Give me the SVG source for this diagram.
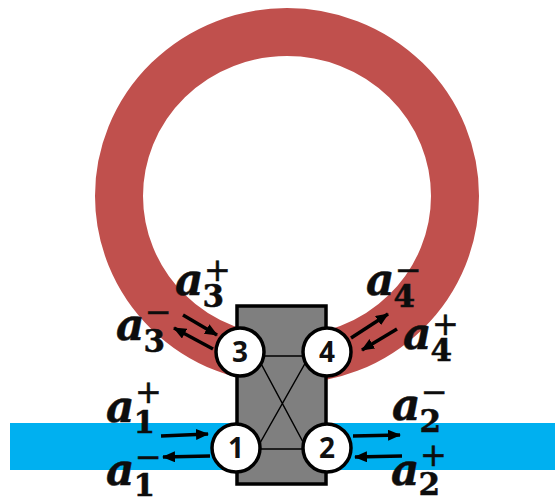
<svg xmlns="http://www.w3.org/2000/svg" width="555" height="498" viewBox="0 0 555 498">
<style>
.lbl{font-family:"DejaVu Serif",serif;font-weight:bold;font-style:italic;font-size:44px;fill:#0d0d0d;stroke:#0d0d0d;stroke-width:.5}
.sub{font-family:"DejaVu Serif",serif;font-weight:bold;font-style:normal;font-size:31px}
.sg{font-family:"DejaVu Sans",sans-serif;font-weight:normal;font-style:normal;font-size:32px}
.num{font-family:"Open Sans","DejaVu Sans",sans-serif;font-weight:bold;font-size:28px;text-anchor:middle;fill:#111}
.port{fill:#fff;stroke:#000;stroke-width:3.5}
.ar{stroke:#000;stroke-width:3.5;fill:none;marker-end:url(#h)}
.in{stroke:#000;stroke-width:1.5;fill:none}
</style>
<defs><marker id="h" markerUnits="userSpaceOnUse" markerWidth="14" markerHeight="12" refX="12" refY="5.5" orient="auto"><path d="M0 0L13 5.5L0 11Z" fill="#000"/></marker></defs>
<g id="ring"><ellipse cx="287" cy="196" rx="168" ry="164" fill="none" stroke="#c0504d" stroke-width="48"/></g>
<g id="waveguide"><rect x="10" y="423" width="545" height="47" fill="#00b0f0"/></g>
<g id="coupler"><rect x="237" y="306" width="89" height="178" fill="#7f7f7f" stroke="#000" stroke-width="3.5"/></g>
<g id="connectors">
<path class="in" d="M240 356H327M236 449H327M258 358L303 442M307 360L260 443"/>
<path class="ar" d="M183 315L217 335"/>
<path class="ar" d="M213 349L174 328"/>
<path class="ar" d="M351 338L388 314"/>
<path class="ar" d="M397 329L362 350"/>
<path class="ar" d="M161 436L208 434"/>
<path class="ar" d="M210 456L163 457"/>
<path class="ar" d="M353 436L400 435"/>
<path class="ar" d="M402 456L355 457"/>
</g>
<g id="port3"><circle class="port" cx="240" cy="352" r="24"/><text class="num" x="240" y="362">3</text></g>
<g id="port4"><circle class="port" cx="327" cy="352" r="24"/><text class="num" x="327" y="362">4</text></g>
<g id="port1"><circle class="port" cx="236" cy="448" r="24"/><text class="num" x="236" y="458">1</text></g>
<g id="port2"><circle class="port" cx="327" cy="448" r="24"/><text class="num" x="327" y="458">2</text></g>
<g id="labels">
<text class="lbl" x="175" y="295">a<tspan class="sub" dx="-1" dy="12">3</tspan><tspan class="sg" dx="-20" dy="-26">+</tspan></text>
<text class="lbl" x="116" y="340">a<tspan class="sub" dx="-1" dy="12">3</tspan><tspan class="sg" dx="-20" dy="-29">−</tspan></text>
<text class="lbl" x="366" y="295">a<tspan class="sub" dx="-1" dy="12">4</tspan><tspan class="sg" dx="-20" dy="-26">−</tspan></text>
<text class="lbl" x="403" y="349">a<tspan class="sub" dx="-1" dy="12">4</tspan><tspan class="sg" dx="-20" dy="-26">+</tspan></text>
<text class="lbl" x="106" y="422">a<tspan class="sub" dx="-1" dy="11">1</tspan><tspan class="sg" dx="-20" dy="-30">+</tspan></text>
<text class="lbl" x="106" y="485">a<tspan class="sub" dx="-1" dy="11">1</tspan><tspan class="sg" dx="-20" dy="-28">−</tspan></text>
<text class="lbl" x="392" y="420">a<tspan class="sub" dx="-1" dy="12">2</tspan><tspan class="sg" dx="-20" dy="-29">−</tspan></text>
<text class="lbl" x="391" y="485">a<tspan class="sub" dx="-1" dy="10">2</tspan><tspan class="sg" dx="-20" dy="-29">+</tspan></text>
</g>
</svg>
